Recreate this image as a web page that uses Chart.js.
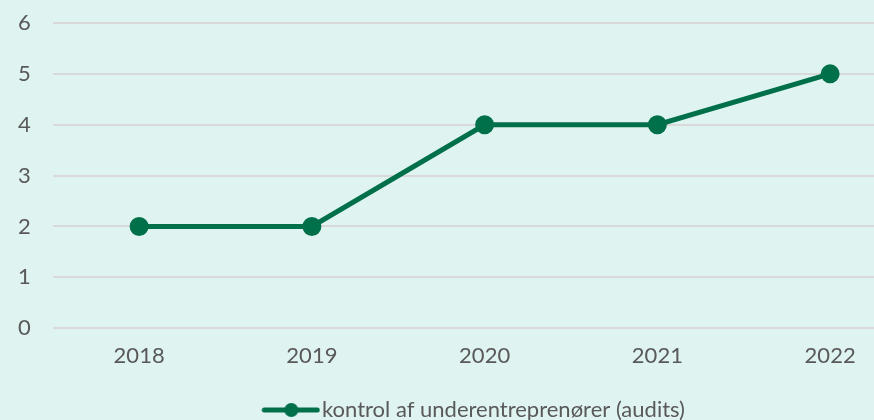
<!DOCTYPE html>
<html><head><meta charset="utf-8">
<script src="https://cdn.jsdelivr.net/npm/chart.js@4.4.1/dist/chart.umd.min.js"></script>
<style>
html,body{margin:0;padding:0;background:#dff3f0;overflow:hidden;}
#wrap{width:952px;height:420px;position:relative;}
</style></head><body>
<div id="wrap"><canvas id="c" width="952" height="420"></canvas></div>
<script>
const categories = ['2018','2019','2020','2021','2022'];
const seriesName = 'kontrol af underentreprenører (audits)';
const values = [2, 2, 4, 4, 5];
const yTicks = [0,1,2,3,4,5,6];

const green = '#00704a';
const txt = '#595959';
const font = 'Lato, "Noto Sans", sans-serif';

// legend symbol: line with a dot, drawn in the right part of the image
const sym = document.createElement('canvas');
sym.width = 102; sym.height = 18;
(function(){
  const g = sym.getContext('2d');
  g.strokeStyle = green; g.lineWidth = 5; g.lineCap = 'round';
  g.beginPath(); g.moveTo(46,9); g.lineTo(99,9); g.stroke();
  g.fillStyle = green; g.beginPath(); g.arc(73,9,7,0,Math.PI*2); g.fill();
})();

new Chart(document.getElementById('c'), {
  type: 'line',
  data: {
    labels: categories,
    datasets: [{
      label: seriesName,
      data: values,
      borderColor: green,
      backgroundColor: green,
      borderWidth: 5,
      pointRadius: 7,
      pointHoverRadius: 7,
      pointBackgroundColor: green,
      pointBorderColor: green,
      tension: 0
    }]
  },
  options: {
    responsive: false,
    animation: false,
    events: [],
    layout: {autoPadding: false, padding: {left: -4, right: 35.5, top: 23, bottom: -11}},
    scales: {
      x: {
        offset: true,
        grid: {display: false, drawTicks: false},
        border: {display: false},
        ticks: {color: txt, font: {family: font, size: 22}, padding: 15},
        title: {display: true, text: ' ', font: {size: 12}, padding: 0},
        afterFit: s => { s.paddingLeft = 0; s.paddingRight = 0; }
      },
      y: {
        min: 0, max: 6,
        afterBuildTicks: s => { s.ticks = yTicks.map(v => ({value: v})); },
        afterFit: s => { s.paddingTop = 0; s.paddingBottom = 0; },
        grid: {color: '#d9d9d9', lineWidth: 2, drawTicks: false},
        border: {display: false},
        ticks: {color: txt, font: {family: font, size: 22}, padding: 22}
      }
    },
    plugins: {
      tooltip: {enabled: false},
      legend: {
        position: 'bottom',
        labels: {
          usePointStyle: true,
          pointStyleWidth: 83.5,
          color: txt,
          font: {family: font, size: 22},
          padding: 0,
          generateLabels: chart => chart.data.datasets.map((d, i) => ({
            text: d.label, pointStyle: sym, fontColor: txt, lineWidth: 0,
            strokeStyle: 'rgba(0,0,0,0)', fillStyle: 'rgba(0,0,0,0)', datasetIndex: i
          }))
        }
      }
    }
  }
});
</script>
</body></html>
